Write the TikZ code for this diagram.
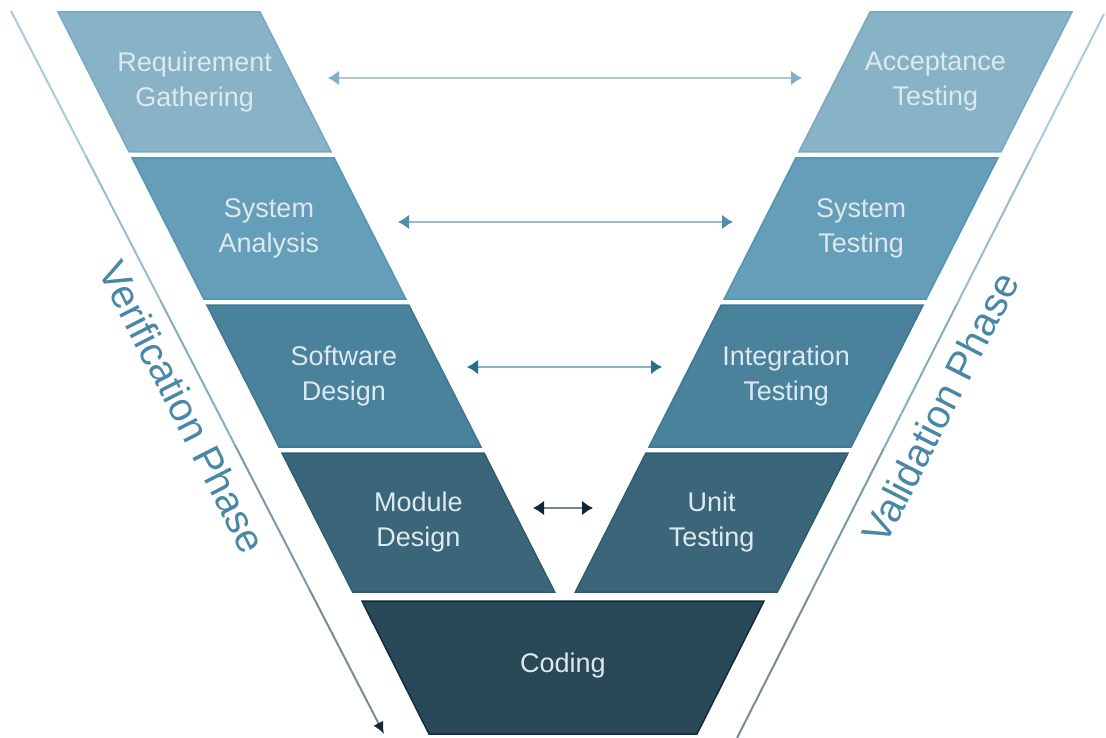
\documentclass[tikz,border=0pt]{standalone}
\usepackage{fontspec}
\setmainfont{Liberation Sans}
\usetikzlibrary{arrows.meta,calc}
\definecolor{rowA}{RGB}{136,178,198}
\definecolor{rowB}{RGB}{101,158,185}
\definecolor{rowC}{RGB}{74,130,156}
\definecolor{rowD}{RGB}{59,102,121}
\definecolor{rowE}{RGB}{41,72,88}
\definecolor{edgeA}{RGB}{122,168,190}
\definecolor{edgeB}{RGB}{86,148,176}
\definecolor{edgeC}{RGB}{58,120,148}
\definecolor{edgeD}{RGB}{44,92,112}
\definecolor{edgeE}{RGB}{16,44,60}
\definecolor{boxtxt}{RGB}{222,233,239}
\definecolor{sidetxt}{RGB}{72,136,166}
\definecolor{arrAline}{RGB}{170,200,214}
\definecolor{arrAhead}{RGB}{130,176,198}
\definecolor{arrBline}{RGB}{150,186,202}
\definecolor{arrBhead}{RGB}{82,142,170}
\definecolor{arrCline}{RGB}{140,175,190}
\definecolor{arrChead}{RGB}{36,112,142}
\definecolor{arrDline}{RGB}{118,134,144}
\definecolor{arrDhead}{RGB}{14,40,56}
\definecolor{slA}{RGB}{170,204,218}
\definecolor{slB}{RGB}{150,190,208}
\definecolor{slC}{RGB}{132,174,194}
\definecolor{slD}{RGB}{122,154,172}
\definecolor{slE}{RGB}{122,138,150}
\definecolor{slHead}{RGB}{12,42,58}
\newcommand\vrow[7]{%
  \pgfmathsetmacro\xlt{58+0.508*(#2-12)}%
  \pgfmathsetmacro\xlb{58+0.508*(#3-12)}%
  \filldraw[fill=#4, draw=#5, line width=1.5pt] (\xlt,#2) -- ({\xlt+202},#2) -- ({\xlb+202},#3) -- (\xlb,#3) -- cycle;
  \filldraw[fill=#4, draw=#5, line width=1.5pt] ({1130-\xlt-202},#2) -- ({1130-\xlt},#2) -- ({1130-\xlb},#3) -- ({1130-\xlb-202},#3) -- cycle;
  \pgfmathsetmacro\ymid{(#2+#3)/2}%
  \pgfmathsetmacro\xmid{58+0.508*(\ymid-12)+101}%
  \node[boxtext] (#1L) at (\xmid,\ymid) {#6};
  \node[boxtext] (#1R) at ({1130-\xmid},\ymid) {#7};
}
\begin{document}
\begin{tikzpicture}[x=1pt,y=-1pt,
  boxtext/.style={text=boxtxt, align=center, font=\fontsize{27}{35}\selectfont},
  sidelabel/.style={text=sidetxt, font=\fontsize{40}{48}\selectfont},
  pairarrow/.style 2 args={draw=#1, line width=2.5pt,
    arrows={Latex[length=11pt,width=15pt,color=#2]-Latex[length=11pt,width=15pt,color=#2]}},
  sideline/.style={line width=2pt}]
\useasboundingbox (0,0) rectangle (1106,738);
\fill[white] (0,0) rectangle (1106,738);

\vrow{req}{12}{152}{rowA}{edgeA}{Requirement\\Gathering}{Acceptance\\Testing}
\vrow{sys}{158}{299}{rowB}{edgeB}{System\\Analysis}{System\\Testing}
\vrow{sw}{305}{447}{rowC}{edgeC}{Software\\Design}{Integration\\Testing}
\vrow{mod}{453}{592}{rowD}{edgeD}{Module\\Design}{Unit\\Testing}

\filldraw[fill=rowE, draw=edgeE, line width=1.5pt] (362,601) -- (764,601) -- (697,734) -- (429,734) -- cycle;
\node[boxtext] (coding) at (563,666) {Coding};

% pair arrows
\coordinate (a1l) at (328,78);  \coordinate (a1r) at (802,78);
\coordinate (a2l) at (398,222); \coordinate (a2r) at (733,222);
\coordinate (a3l) at (467,367); \coordinate (a3r) at (662,367);
\coordinate (a4l) at (533,508); \coordinate (a4r) at (593,508);
\draw[pairarrow={arrAline}{arrAhead}] (a1l) -- (a1r);
\draw[pairarrow={arrBline}{arrBhead}] (a2l) -- (a2r);
\draw[pairarrow={arrCline}{arrChead}] (a3l) -- (a3r);
\draw[pairarrow={arrDline}{arrDhead}] (a4l) -- (a4r);

% left side line (verification)
\coordinate (vtop) at (11,11);
\coordinate (vbot) at (384,734);
\draw[sideline, slA] (vtop) -- ($(vtop)!0.2!(vbot)$);
\draw[sideline, slB] ($(vtop)!0.2!(vbot)$) -- ($(vtop)!0.4!(vbot)$);
\draw[sideline, slC] ($(vtop)!0.4!(vbot)$) -- ($(vtop)!0.6!(vbot)$);
\draw[sideline, slD] ($(vtop)!0.6!(vbot)$) -- ($(vtop)!0.8!(vbot)$);
\draw[sideline, slE, -{Latex[length=12pt,width=11pt,color=slHead]}] ($(vtop)!0.8!(vbot)$) -- (vbot);

% right side line (validation)
\coordinate (wbot) at (737,738);
\coordinate (wtop) at (1104,14);
\draw[sideline, slE] (wbot) -- ($(wbot)!0.2!(wtop)$);
\draw[sideline, slD] ($(wbot)!0.2!(wtop)$) -- ($(wbot)!0.4!(wtop)$);
\draw[sideline, slC] ($(wbot)!0.4!(wtop)$) -- ($(wbot)!0.6!(wtop)$);
\draw[sideline, slB] ($(wbot)!0.6!(wtop)$) -- ($(wbot)!0.8!(wtop)$);
\draw[sideline, slA] ($(wbot)!0.8!(wtop)$) -- (wtop);

\node[sidelabel, rotate=-63] (verif) at (183,407) {Verification Phase};
\node[sidelabel, rotate=63] (valid) at (940,408) {Validation Phase};
\end{tikzpicture}
\end{document}
